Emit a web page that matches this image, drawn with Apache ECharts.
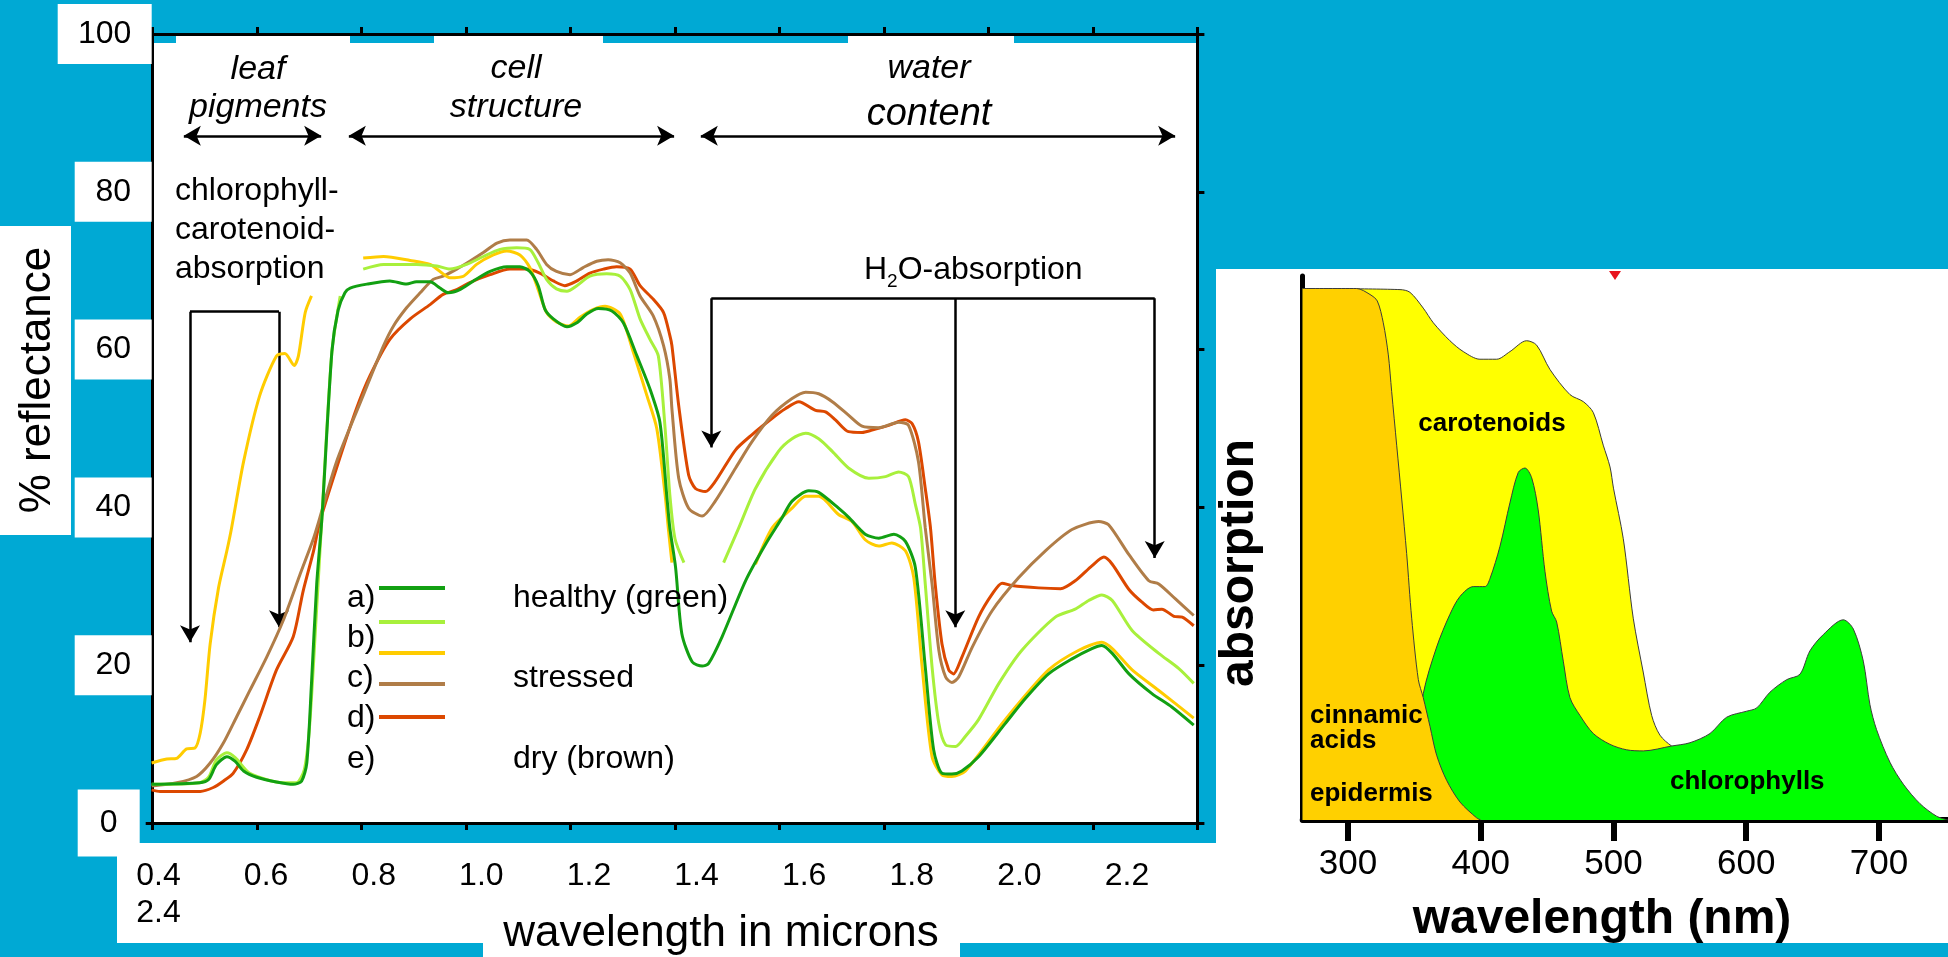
<!DOCTYPE html>
<html>
<head>
<meta charset="utf-8">
<script src="https://cdn.jsdelivr.net/npm/echarts@6/dist/echarts.min.js"></script>
<style>
html,body{margin:0;padding:0;background:#00a9d4;}
#c{width:1948px;height:957px;}
</style>
</head>
<body>
<div id="c"></div>
<script>
const FONT = "'Liberation Sans', Arial, Helvetica, sans-serif";

// ---------- Left chart: % reflectance vs wavelength (microns) ----------
const yTicks = [0, 20, 40, 60, 80, 100];
const xTickLabels = ['0.4', '0.6', '0.8', '1.0', '1.2', '1.4', '1.6', '1.8', '2.0', '2.2'];
const xWrappedLabel = '2.4';

const healthy = [[0.398,4.9],[0.49,5.1],[0.507,5.5],[0.522,7.4],[0.542,8.4],[0.558,7.8],[0.574,6.6],[0.599,5.8],[0.637,5.2],[0.669,4.9],[0.685,5.3],[0.695,7.6],[0.704,17.7],[0.714,30.3],[0.724,38.7],[0.743,59.7],[0.755,65.0],[0.768,67.2],[0.778,67.8],[0.81,68.3],[0.854,68.7],[0.886,68.3],[0.905,68.6],[0.931,68.6],[0.95,67.8],[0.966,67.2],[0.988,67.6],[1.014,68.7],[1.046,69.9],[1.078,70.5],[1.103,70.5],[1.122,69.9],[1.138,68.1],[1.151,65.1],[1.167,63.9],[1.193,62.9],[1.212,63.4],[1.231,64.5],[1.253,65.2],[1.279,64.9],[1.301,63.4],[1.327,59.2],[1.352,55.0],[1.371,50.8],[1.384,41.6],[1.39,37.4],[1.401,32.4],[1.413,24.0],[1.433,20.4],[1.452,19.9],[1.464,20.2],[1.49,23.6],[1.535,30.7],[1.573,35.3],[1.605,38.7],[1.624,40.8],[1.656,42.1],[1.675,41.9],[1.713,39.9],[1.733,38.7],[1.764,36.6],[1.79,36.1],[1.819,36.6],[1.841,35.7],[1.86,32.4],[1.879,19.8],[1.895,9.3],[1.911,6.3],[1.93,6.2],[1.949,6.6],[1.981,8.4],[2.032,12.6],[2.071,15.8],[2.115,18.9],[2.16,20.8],[2.198,22.1],[2.217,22.5],[2.237,21.5],[2.269,18.9],[2.313,16.4],[2.351,14.7],[2.393,12.4]];

const lightGreen = [[0.398,4.9],[0.49,5.1],[0.507,5.8],[0.522,8.0],[0.542,8.9],[0.558,8.3],[0.586,6.3],[0.65,5.1],[0.675,5.1],[0.69,6.7],[0.7,12.0],[0.712,25.0],[0.725,40.0],[0.743,59.7],[0.759,66.8],[0.78,null],[0.803,70.2],[0.842,70.8],[0.905,70.8],[0.944,70.6],[0.969,70.2],[1.001,70.8],[1.033,71.8],[1.065,72.7],[1.097,72.9],[1.122,72.7],[1.138,71.0],[1.154,68.9],[1.173,67.7],[1.193,67.4],[1.212,68.1],[1.237,69.3],[1.269,69.6],[1.295,69.3],[1.314,67.6],[1.333,63.9],[1.352,61.3],[1.368,59.2],[1.381,50.0],[1.39,41.6],[1.4,36.0],[1.417,33.0],[1.45,null],[1.493,33.0],[1.522,37.4],[1.554,42.4],[1.598,47.1],[1.624,48.7],[1.65,49.4],[1.675,48.7],[1.701,47.1],[1.732,45.0],[1.771,43.7],[1.803,43.9],[1.828,44.5],[1.847,43.9],[1.86,40.4],[1.87,37.4],[1.879,30.3],[1.892,19.8],[1.905,12.6],[1.918,9.9],[1.937,9.7],[1.956,11.0],[1.981,13.1],[2.02,17.7],[2.064,21.9],[2.128,26.1],[2.166,27.1],[2.192,28.2],[2.217,28.9],[2.237,28.2],[2.275,24.4],[2.326,21.5],[2.364,19.6],[2.393,17.7]];

const yellow = [[0.398,7.6],[0.427,8.1],[0.446,8.2],[0.465,9.4],[0.481,9.5],[0.491,11.4],[0.5,15.6],[0.51,22.7],[0.526,29.8],[0.542,34.5],[0.551,37.4],[0.574,45.8],[0.605,54.2],[0.637,59.2],[0.653,59.5],[0.671,58.0],[0.679,59.2],[0.692,64.7],[0.704,66.8],[0.75,null],[0.803,71.6],[0.842,71.8],[0.893,71.3],[0.931,70.8],[0.95,69.9],[0.969,69.1],[0.995,69.3],[1.02,70.8],[1.052,72.0],[1.078,72.5],[1.103,72.0],[1.122,70.4],[1.138,67.6],[1.154,64.7],[1.173,63.5],[1.196,63.0],[1.218,64.1],[1.244,65.1],[1.266,65.5],[1.295,64.5],[1.32,59.7],[1.346,54.2],[1.365,50.0],[1.381,41.6],[1.387,37.4],[1.394,33.0],[1.47,null],[1.554,32.8],[1.586,37.4],[1.624,39.9],[1.65,41.4],[1.675,41.4],[1.713,39.1],[1.739,38.2],[1.764,35.9],[1.79,35.1],[1.815,35.5],[1.841,34.5],[1.857,31.1],[1.873,19.8],[1.892,8.4],[1.911,6.1],[1.93,5.9],[1.956,6.6],[2.032,13.1],[2.115,19.4],[2.173,21.9],[2.217,22.9],[2.237,22.1],[2.275,19.4],[2.326,16.8],[2.393,13.3]];

const brown = [[0.398,4.7],[0.446,5.1],[0.484,5.9],[0.51,7.6],[0.535,10.1],[0.561,13.5],[0.586,16.8],[0.618,21.0],[0.65,25.7],[0.682,31.5],[0.708,36.1],[0.72,38.7],[0.752,45.8],[0.803,54.2],[0.842,60.5],[0.861,63.0],[0.886,65.3],[0.912,67.2],[0.937,68.9],[0.956,69.3],[0.982,70.2],[1.007,71.2],[1.033,72.3],[1.059,73.5],[1.084,73.9],[1.116,73.9],[1.135,72.7],[1.154,70.8],[1.173,69.9],[1.199,69.5],[1.224,70.4],[1.25,71.2],[1.272,71.4],[1.295,71.0],[1.314,69.7],[1.333,66.8],[1.358,64.3],[1.378,60.5],[1.39,56.3],[1.394,52.5],[1.407,43.7],[1.426,39.9],[1.452,38.9],[1.477,40.8],[1.516,45.0],[1.547,48.3],[1.586,51.7],[1.624,53.8],[1.65,54.6],[1.675,54.4],[1.701,53.4],[1.732,51.7],[1.758,50.3],[1.79,50.1],[1.828,50.8],[1.847,50.4],[1.866,45.8],[1.879,37.4],[1.892,30.3],[1.905,21.9],[1.918,18.5],[1.93,17.8],[1.943,18.5],[1.969,22.3],[2.007,26.9],[2.058,31.1],[2.109,34.5],[2.16,37.2],[2.211,38.2],[2.23,37.8],[2.269,34.0],[2.307,30.7],[2.326,30.3],[2.358,28.4],[2.393,26.3]];

const red = [[0.398,4.2],[0.414,4.0],[0.491,4.0],[0.516,4.5],[0.535,5.3],[0.554,6.3],[0.58,9.3],[0.605,13.5],[0.637,19.4],[0.669,23.6],[0.688,29.4],[0.708,34.5],[0.72,38.2],[0.752,45.0],[0.79,52.5],[0.816,56.7],[0.854,61.3],[0.893,63.9],[0.931,65.7],[0.956,67.0],[0.982,67.6],[1.007,68.5],[1.046,69.5],[1.084,70.2],[1.116,70.2],[1.141,69.7],[1.167,68.7],[1.189,68.1],[1.212,68.7],[1.237,69.7],[1.263,70.2],[1.288,70.5],[1.314,70.2],[1.333,68.1],[1.358,66.4],[1.378,64.7],[1.39,61.8],[1.394,60.5],[1.407,52.9],[1.426,44.1],[1.439,42.4],[1.458,42.0],[1.477,43.3],[1.516,47.3],[1.547,49.2],[1.586,51.3],[1.611,52.5],[1.637,53.4],[1.669,52.3],[1.688,52.1],[1.707,51.1],[1.732,49.6],[1.758,49.5],[1.777,49.8],[1.809,50.4],[1.841,51.1],[1.854,50.6],[1.866,48.3],[1.879,42.4],[1.889,37.4],[1.898,30.3],[1.911,22.7],[1.924,19.4],[1.933,18.9],[1.949,21.0],[1.981,26.1],[2.007,29.0],[2.026,30.4],[2.045,30.1],[2.096,29.8],[2.138,29.7],[2.166,30.7],[2.198,32.6],[2.221,33.7],[2.237,32.8],[2.269,29.6],[2.294,28.0],[2.316,27.0],[2.332,27.1],[2.355,26.2],[2.371,26.1],[2.393,25.0]];

// annotation positions (data space)
const regionArrowY = 87.1;
const regionArrows = [[0.4596, 0.7225], [0.7755, 1.3982], [1.4493, 2.3574]];
const chlBracket = { top: 64.8, xs: [0.4714, 0.6418], tips: [21.9, 23.8] };
const h2oBracket = { top: 66.5, xs: [1.4694, 1.9365, 2.3183], tips: [46.6, 23.8, 32.6] };

// ---------- Right chart: absorption vs wavelength (nm) ----------
const nmTicks = [300, 400, 500, 600, 700];
const carotenoids = [[265.9,97.7],[339.2,97.5],[346.7,97.0],[356.7,94.1],[364.3,91.4],[376.8,88.1],[386.9,86.1],[399.4,84.7],[412.0,84.7],[422.0,86.1],[434.6,88.1],[442.1,87.3],[452.2,82.8],[467.2,78.2],[477.3,76.9],[484.8,74.9],[492.3,68.9],[497.4,64.9],[500.0,61.0],[507.4,51.7],[514.9,37.1],[522.4,27.2],[528.8,19.2],[535.0,15.6],[543.8,13.6],[550.0,13.0]];
const chlorophylls = [[350.0,10.0],[356.7,23.2],[366.8,31.8],[376.8,37.8],[384.4,41.1],[394.4,42.9],[403.2,42.9],[407.0,44.4],[414.5,50.3],[422.0,58.3],[428.3,63.9],[433.3,64.7],[438.4,62.9],[443.3,57.0],[448.4,45.7],[453.4,38.4],[457.2,36.4],[462.2,29.2],[467.2,22.5],[474.8,19.2],[484.8,15.9],[497.4,13.9],[509.9,12.9],[522.4,12.7],[543.8,13.6],[557.6,14.2],[572.7,15.9],[585.3,18.9],[600.3,20.0],[607.9,20.6],[617.9,23.5],[630.5,25.8],[640.5,26.8],[648.0,31.1],[658.1,34.1],[673.1,36.8],[680.7,35.1],[688.2,29.2],[693.2,21.2],[698.2,16.6],[708.3,10.6],[718.3,6.6],[730.9,3.0],[743.4,0.7],[752.0,0.0]];
const epidermis = [[265.9,97.7],[306.5,97.7],[316.6,96.6],[322.1,95.4],[326.6,91.4],[330.4,85.5],[332.9,78.8],[336.7,68.9],[340.5,59.0],[344.2,49.0],[348.0,37.1],[353.0,25.8],[356.7,22.5],[361.8,17.2],[366.8,11.9],[374.3,7.3],[384.4,3.3],[396.9,0.4],[400.0,0.0]];

// ---------- build ----------
const gaps = arr => arr.map(p => p[1] === null ? [p[0], '-'] : p);
const COL = { a: '#12a012', b: '#a8f03c', c: '#ffcc00', d: '#b07d48', e: '#dc4800' };

function lineSeries(name, data, color, z) {
  return {
    name, type: 'line', xAxisIndex: 0, yAxisIndex: 0, data: gaps(data),
    symbol: 'none', showSymbol: false, smooth: 0.25, connectNulls: false,
    lineStyle: { color, width: 3 }, itemStyle: { color }, z, silent: true
  };
}

const markData = [];
regionArrows.forEach(a => {
  markData.push([{ coord: [a[0], regionArrowY], symbol: 'arrow' }, { coord: [a[1], regionArrowY], symbol: 'arrow' }]);
});
[chlBracket, h2oBracket].forEach(b => {
  markData.push([{ coord: [b.xs[0], b.top], symbol: 'none' }, { coord: [b.xs[b.xs.length - 1], b.top], symbol: 'none' }]);
  b.xs.forEach((x, i) => {
    markData.push([{ coord: [x, b.top], symbol: 'none' }, { coord: [x, b.tips[i] + 1.0], symbol: 'arrow' }]);
  });
});

const sHealthy = lineSeries('a) healthy (green)', healthy, COL.a, 9);
sHealthy.markLine = {
  silent: true, symbolSize: [15, 17], label: { show: false },
  lineStyle: { color: '#000', width: 2.5, type: 'solid' },
  itemStyle: { color: '#000' },
  emphasis: { disabled: true }, animation: false, data: markData
};

function areaSeries(name, data, color, z) {
  return {
    name, type: 'line', xAxisIndex: 3, yAxisIndex: 3, data,
    symbol: 'none', showSymbol: false, smooth: 0.3, silent: true,
    lineStyle: { color: '#3c3c3c', width: 1 },
    areaStyle: { color, opacity: 1 }, z
  };
}

const blackAxisLine = w => ({ show: true, onZero: false, lineStyle: { color: '#000', width: w } });

const rect = (x, y, w, h, fill, z) => ({ type: 'rect', shape: { x, y, width: w, height: h }, style: { fill }, z: z === undefined ? -10 : z, silent: true });
const txt = (text, x, y, font, align, vAlign, extra) => Object.assign({
  type: 'text', x, y, z: 20, silent: true,
  style: { text, font, fill: '#000', align: align || 'center', verticalAlign: vAlign || 'middle' }
}, extra || {});
const hline = (x1, x2, y, color, w) => ({ type: 'line', shape: { x1, y1: y, x2, y2: y }, style: { stroke: color, lineWidth: w }, z: 20, silent: true });

const graphics = [
  // white panels of the composite slide
  rect(153, 43, 1044, 780, '#fff'),
  rect(176, 34, 174, 9, '#fff'),
  rect(434, 34, 169, 9, '#fff'),
  rect(848, 34, 166, 9, '#fff'),
  rect(0, 226, 71, 309, '#fff'),
  rect(1216, 269, 732, 674, '#fff'),
  rect(117, 843, 1831, 100, '#fff'),
  rect(483, 943, 477, 14, '#fff'),
  // region labels
  txt('leaf', 258, 70, 'italic 34px ' + FONT),
  txt('pigments', 258, 108, 'italic 34px ' + FONT),
  txt('cell', 516, 69, 'italic 34px ' + FONT),
  txt('structure', 516, 108, 'italic 34px ' + FONT),
  txt('water', 929, 69, 'italic 34px ' + FONT),
  txt('content', 929, 114, 'italic 38px ' + FONT),
  { type: 'text', x: 175, y: 172, z: 20, silent: true,
    style: { text: 'chlorophyll-\ncarotenoid-\nabsorption', font: '32px ' + FONT, fill: '#000', align: 'left', verticalAlign: 'top', lineHeight: 39 } },
  { type: 'text', x: 864, y: 270, z: 20, silent: true,
    style: { text: 'H{sub|2}O-absorption', font: '32px ' + FONT, fill: '#000', align: 'left', verticalAlign: 'middle',
      rich: { sub: { fontSize: 19, fontFamily: FONT, fill: '#000', padding: [24, 0, 0, 0] } } } },
  // legend
  txt('a)', 347, 598, '32px ' + FONT, 'left'),
  txt('b)', 347, 638, '32px ' + FONT, 'left'),
  txt('c)', 347, 678, '32px ' + FONT, 'left'),
  txt('d)', 347, 718, '32px ' + FONT, 'left'),
  txt('e)', 347, 759, '32px ' + FONT, 'left'),
  hline(379, 445, 588, COL.a, 4),
  hline(379, 445, 622, COL.b, 4),
  hline(379, 445, 653, COL.c, 4),
  hline(379, 445, 684, COL.d, 4),
  hline(379, 445, 717, COL.e, 4),
  txt('healthy (green)', 513, 598, '32px ' + FONT, 'left'),
  txt('stressed', 513, 678, '32px ' + FONT, 'left'),
  txt('dry (brown)', 513, 759, '32px ' + FONT, 'left'),
  // axis titles
  txt('% reflectance', 38, 380, '44px ' + FONT, 'center', 'middle', { rotation: Math.PI / 2 }),
  txt('wavelength in microns', 721, 934, '44px ' + FONT),
  txt('absorption', 1240, 563, 'bold 48px ' + FONT, 'center', 'middle', { rotation: Math.PI / 2 }),
  txt('wavelength (nm)', 1602, 920, 'bold 48px ' + FONT),
  // right chart labels
  txt('carotenoids', 1492, 424, 'bold 26px ' + FONT),
  { type: 'text', x: 1310, y: 703, z: 20, silent: true, style: { text: 'cinnamic\nacids', font: 'bold 26px ' + FONT, fill: '#000', align: 'left', verticalAlign: 'top', lineHeight: 25 } },
  txt('epidermis', 1310, 794, 'bold 26px ' + FONT, 'left'),
  txt('chlorophylls', 1670, 782, 'bold 26px ' + FONT, 'left'),
  { type: 'polygon', shape: { points: [[1609, 271], [1621, 271], [1615, 280]] }, style: { fill: '#e8141e' }, z: 20, silent: true }
];

const option = {
  backgroundColor: '#00a9d4',
  animation: false,
  textStyle: { fontFamily: FONT },
  grid: [
    { left: 152.7, top: 34, width: 1044.7, height: 789 },
    { left: 158.5, top: 0, width: 968.5, height: 858 },
    { left: 1302.7, top: 276, width: 645.3, height: 544 }
  ],
  xAxis: [
    { gridIndex: 0, type: 'value', min: 0.4, max: 2.4, interval: 0.2, position: 'bottom',
      axisLine: blackAxisLine(3), axisTick: { show: true, inside: false, length: 7, lineStyle: { color: '#000', width: 3 } },
      axisLabel: { show: false }, splitLine: { show: false } },
    { gridIndex: 0, type: 'value', min: 0.4, max: 2.4, interval: 0.2, position: 'top',
      axisLine: blackAxisLine(3), axisTick: { show: true, inside: false, length: 7, lineStyle: { color: '#000', width: 3 } },
      axisLabel: { show: false }, splitLine: { show: false } },
    { gridIndex: 1, type: 'category', data: xTickLabels, boundaryGap: false, position: 'bottom',
      axisLine: { show: false, onZero: false }, axisTick: { show: false }, splitLine: { show: false },
      axisLabel: { interval: 0, margin: 0, color: '#000', fontSize: 32, lineHeight: 37, fontFamily: FONT,
        formatter: (v, i) => i === 0 ? v + '\n' + xWrappedLabel : v } },
    { gridIndex: 2, type: 'value', min: 265.9, max: 752, position: 'bottom',
      axisLine: blackAxisLine(6),
      axisTick: { show: true, inside: false, length: 21, customValues: nmTicks, lineStyle: { color: '#000', width: 6 } },
      axisLabel: { customValues: nmTicks, margin: 24, color: '#000', fontSize: 35, lineHeight: 40, fontFamily: FONT },
      splitLine: { show: false } }
  ],
  yAxis: [
    { gridIndex: 0, type: 'value', min: 0, max: 100, interval: 20, position: 'left',
      axisLine: blackAxisLine(3), axisTick: { show: true, inside: false, length: 7, lineStyle: { color: '#000', width: 3 } },
      splitLine: { show: false },
      axisLabel: {
        margin: 1, color: '#000', fontSize: 32, fontFamily: FONT,
        formatter: v => v === 100 ? '{b100|100}' : (v === 0 ? '{b0|0}{sp|}' : '{b|' + v + '}'),
        rich: {
          b100: { backgroundColor: '#fff', width: 94, height: 60, align: 'center', fontSize: 32, color: '#000', fontFamily: FONT },
          b: { backgroundColor: '#fff', width: 77, height: 60, align: 'center', fontSize: 32, color: '#000', fontFamily: FONT },
          b0: { backgroundColor: '#fff', width: 62, height: 67, align: 'center', fontSize: 32, color: '#000', fontFamily: FONT },
          sp: { width: 12, height: 10 }
        }
      } },
    { gridIndex: 0, type: 'value', min: 0, max: 100, interval: 20, position: 'right',
      axisLine: blackAxisLine(3), axisTick: { show: true, inside: false, length: 7, lineStyle: { color: '#000', width: 3 } },
      axisLabel: { show: false }, splitLine: { show: false } },
    { gridIndex: 1, type: 'value', show: false, min: 0, max: 1 },
    { gridIndex: 2, type: 'value', min: 0, max: 100, position: 'left',
      axisLine: blackAxisLine(5), axisTick: { show: false }, axisLabel: { show: false }, splitLine: { show: false } }
  ],
  series: [
    lineSeries('e) dry (brown)', red, COL.e, 5),
    lineSeries('d)', brown, COL.d, 5),
    lineSeries('c) stressed', yellow, COL.c, 6),
    lineSeries('b)', lightGreen, COL.b, 7),
    sHealthy,
    areaSeries('carotenoids', carotenoids, '#ffff00', 2),
    areaSeries('chlorophylls', chlorophylls, '#00ff00', 3),
    areaSeries('cinnamic acids / epidermis', epidermis, '#ffd000', 4)
  ],
  graphic: { elements: graphics }
};

const chart = echarts.init(document.getElementById('c'), null, { renderer: 'canvas', width: 1948, height: 957 });
chart.setOption(option);
</script>
</body>
</html>
